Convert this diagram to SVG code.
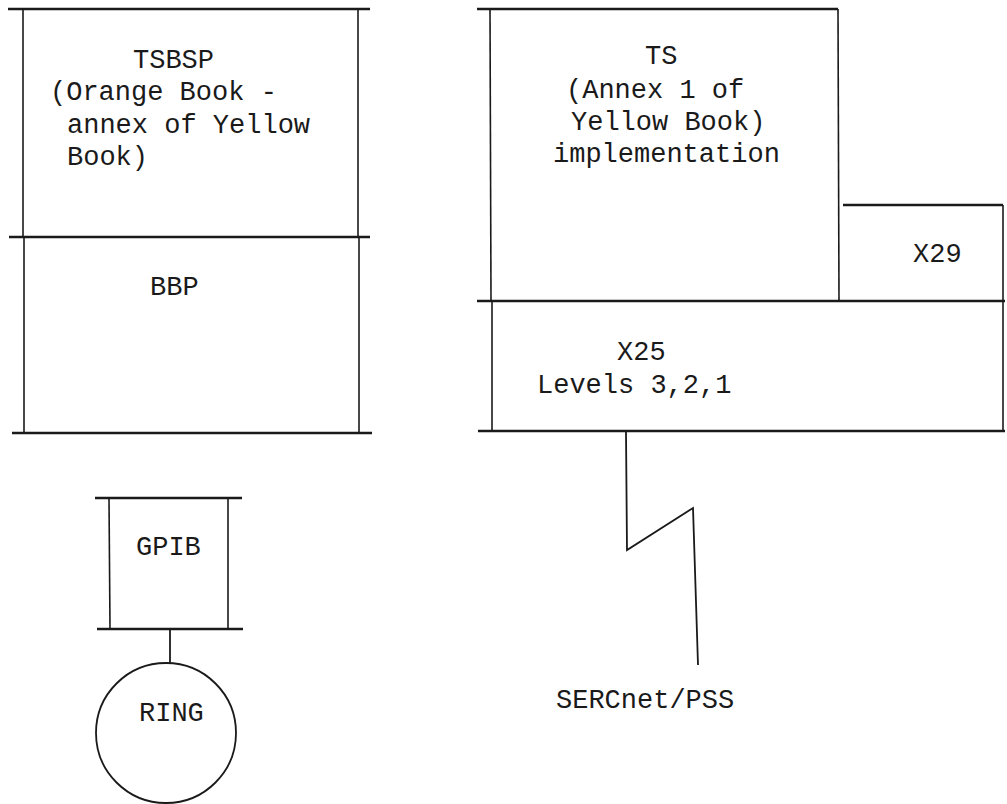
<svg xmlns="http://www.w3.org/2000/svg" width="1007" height="804" viewBox="0 0 1007 804">
<style>
.h{stroke:#1a1a1a;stroke-width:2.6;fill:none}
.v{stroke:#1a1a1a;stroke-width:1.6;fill:none}
.c{stroke:#1a1a1a;stroke-width:1.8;fill:none}
text{font-family:"Liberation Mono","DejaVu Sans Mono",monospace;font-size:27px;fill:#1a1a1a}
</style>
<rect width="1007" height="804" fill="#ffffff"/>
<g id="tsbsp">
<line class="h" x1="8" y1="9" x2="370" y2="9"/>
<line class="v" x1="23" y1="9" x2="23" y2="237"/>
<line class="v" x1="358" y1="9" x2="358" y2="237"/>
<text x="133" y="68">TSBSP</text>
<text x="50" y="100">(Orange Book -</text>
<text x="67" y="133">annex of Yellow</text>
<text x="67" y="165">Book)</text>
</g>
<g id="bbp">
<line class="h" x1="9" y1="237" x2="370" y2="237"/>
<line class="v" x1="24" y1="237" x2="24" y2="433"/>
<line class="v" x1="359" y1="237" x2="359" y2="433"/>
<line class="h" x1="12" y1="433" x2="372" y2="433"/>
<text x="150" y="295">BBP</text>
</g>
<g id="ts">
<line class="h" x1="477" y1="9" x2="838" y2="9"/>
<line class="v" x1="490" y1="9" x2="491" y2="301"/>
<line class="v" x1="838" y1="9" x2="839" y2="301"/>
<text x="645" y="64">TS</text>
<text x="566" y="98">(Annex 1 of</text>
<text x="571" y="130">Yellow Book)</text>
<text x="553" y="162">implementation</text>
</g>
<g id="x29">
<line class="h" x1="843" y1="205" x2="1003" y2="205"/>
<line class="v" x1="1003" y1="205" x2="1003" y2="301"/>
<text x="913" y="262">X29</text>
</g>
<g id="x25">
<line class="h" x1="477" y1="301" x2="1005" y2="301"/>
<line class="v" x1="492" y1="301" x2="492" y2="431"/>
<line class="v" x1="1003" y1="301" x2="1003" y2="431"/>
<line class="h" x1="478" y1="431" x2="1005" y2="431"/>
<text x="617" y="360">X25</text>
<text x="537" y="393">Levels 3,2,1</text>
</g>
<g id="gpib">
<line class="h" x1="95" y1="498" x2="242" y2="498"/>
<line class="v" x1="109" y1="498" x2="110" y2="629"/>
<line class="v" x1="228" y1="498" x2="228" y2="629"/>
<line class="h" x1="97" y1="629" x2="243" y2="629"/>
<text x="136" y="555">GPIB</text>
</g>
<g id="ring">
<circle class="c" cx="166" cy="733" r="70"/>
<text x="139" y="721">RING</text>
</g>
<g id="sercnet">
<text x="556" y="708">SERCnet/PSS</text>
</g>
<g id="connectors">
<line class="c" x1="170" y1="629" x2="170" y2="663"/>
<polyline class="c" points="626,432 627,550 693,508 698,665"/>
</g>
</svg>
